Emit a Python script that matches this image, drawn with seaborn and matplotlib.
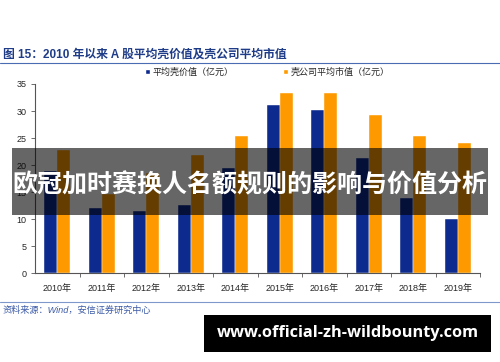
import pandas as pd
import seaborn as sns
import matplotlib.pyplot as plt
from matplotlib.patches import Rectangle, Patch
from matplotlib.lines import Line2D

# values (亿元)
years = ["2010年", "2011年", "2012年", "2013年", "2014年",
         "2015年", "2016年", "2017年", "2018年", "2019年"]
shell_value = [19.0, 12.0, 11.5, 12.6, 19.5, 31.2, 30.1, 21.4, 14.0, 10.0]
shell_mktcap = [22.8, 14.7, 18.6, 21.8, 25.3, 33.4, 33.4, 29.3, 25.4, 24.0]
series_names = ["平均壳价值（亿元）", "壳公司平均市值（亿元）"]
y_ticks = [0, 5, 10, 15, 20, 25, 30, 35]

BLUE = "#0d2a8e"
ORANGE = "#ff9900"

sns.set_style("white")
plt.rcParams["font.family"] = ["Liberation Sans", "Noto Sans CJK SC"]


def build_frame():
    df = pd.DataFrame({
        "year": years * 2,
        "value": shell_value + shell_mktcap,
        "series": [series_names[0]] * len(years) + [series_names[1]] * len(years),
    })
    return df


def draw(df):
    fig = plt.figure(figsize=(5, 3.62), dpi=100)
    ax = fig.add_axes([0.07, 0.245, 0.89, 0.523])

    sns.barplot(
        data=df, x="year", y="value", hue="series",
        palette=[BLUE, ORANGE], saturation=1, width=0.58, gap=0,
        edgecolor="#ffffff", linewidth=0.3, legend=False, ax=ax,
    )

    ax.set_xlim(-0.5, len(years) - 0.5)
    ax.set_ylim(0, 35)
    ax.set_yticks(y_ticks)
    ax.set_xlabel("")
    ax.set_ylabel("")
    for side in ["top", "right"]:
        ax.spines[side].set_visible(False)
    for side in ["left", "bottom"]:
        ax.spines[side].set_color("#555555")
        ax.spines[side].set_linewidth(0.8)

    ax.tick_params(axis="y", labelsize=6.5, length=3, width=0.6,
                   color="#555555", left=True, pad=3)
    ax.tick_params(axis="x", which="major", labelsize=6.5, length=0, pad=8)
    ax.set_xticks([i + 0.5 for i in range(len(years))], minor=True)
    ax.tick_params(axis="x", which="minor", length=3, width=0.6,
                   color="#555555", bottom=True)

    # legend on top
    handles = [Patch(facecolor=BLUE), Patch(facecolor=ORANGE)]
    fig.legend(handles, series_names, loc="center", bbox_to_anchor=(0.535, 0.8),
               ncol=2, frameon=False, fontsize=6.5, handlelength=0.5,
               handleheight=0.5, handletextpad=0.3, columnspacing=5.5)

    # title and rules
    fig.text(0.006, 0.848, "图 15：2010 年以来 A 股平均壳价值及壳公司平均市值",
             fontsize=8.5, fontweight="bold", color="#1f3c88", va="center")
    fig.add_artist(Line2D([0, 1], [0.826, 0.826], color="#4a6cb3", lw=0.8))
    fig.add_artist(Line2D([0, 1], [0.166, 0.166], color="#7e98cc", lw=0.8))
    fig.text(0.006, 0.143, "资料来源：Wind，安信证券研究中心",
             fontsize=6.6, style="italic", color="#3c5aa6", va="center")

    # overlay banner
    fig.add_artist(Rectangle((0.024, 0.406), 0.952, 0.185, transform=fig.transFigure,
                             facecolor="black", alpha=0.6, edgecolor="none"))
    fig.text(0.5, 0.489, "欧冠加时赛换人名额规则的影响与价值分析",
             fontsize=18, fontweight="bold", color="white", ha="center", va="center",
             family=["Noto Sans CJK SC"])

    # watermark box
    fig.add_artist(Rectangle((0.408, 0.0276), 0.574, 0.102, transform=fig.transFigure,
                             facecolor="black", edgecolor="none"))
    fig.text(0.695, 0.079, "www.official-zh-wildbounty.com",
             fontsize=11.8, fontweight="bold", color="white", ha="center", va="center",
             family=["Open Sans"])

    fig.savefig("out.png", dpi=100)


def main():
    draw(build_frame())


if __name__ == "__main__":
    main()
